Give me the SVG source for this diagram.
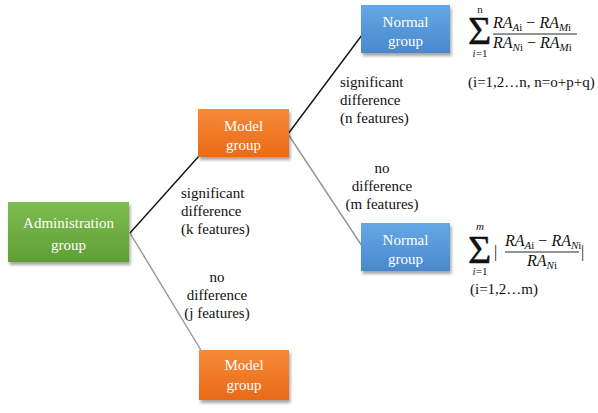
<svg xmlns="http://www.w3.org/2000/svg" width="598" height="413" viewBox="0 0 598 413">
<defs>
<linearGradient id="gGreen" x1="0" y1="0" x2="0" y2="1"><stop offset="0" stop-color="#7dbd4f"/><stop offset="1" stop-color="#5f9f35"/></linearGradient>
<linearGradient id="gOrange" x1="0" y1="0" x2="0" y2="1"><stop offset="0" stop-color="#f68a38"/><stop offset="1" stop-color="#e96a18"/></linearGradient>
<linearGradient id="gBlue" x1="0" y1="0" x2="0" y2="1"><stop offset="0" stop-color="#65a8e6"/><stop offset="1" stop-color="#4a88cc"/></linearGradient>
<filter id="sh" x="-10%" y="-10%" width="130%" height="140%"><feDropShadow dx="1.5" dy="3" stdDeviation="1.8" flood-color="#000" flood-opacity="0.35"/></filter>
</defs>
<style>
.box{filter:url(#sh)}
.bt{font-family:"Liberation Serif","Times New Roman",serif;font-size:15px;fill:#fff;text-anchor:middle}
.lb{font-family:"Liberation Serif","Times New Roman",serif;font-size:15px;fill:#111}
.c{text-anchor:middle}
.m{font-family:"Liberation Serif","Times New Roman",serif;fill:#111}
.sig{font-size:40px;stroke:#111;stroke-width:0.4}
.it{font-style:italic}
.big{font-size:16px}
.sub{font-size:11px}
.sm{font-size:11px}
.dk{stroke:#111;stroke-width:1.4;fill:none}
.gy{stroke:#959595;stroke-width:1.4;fill:none}
.fl{stroke:#111;stroke-width:0.9}
</style>
<g id="connectors">
<line class="dk" x1="130" y1="233" x2="199" y2="156"/>
<line class="gy" x1="130" y1="233" x2="202" y2="352"/>
<line class="dk" x1="288" y1="134" x2="362" y2="35"/>
<line class="gy" x1="288" y1="134" x2="362" y2="246"/>
</g>
<g id="admin">
<rect class="box" x="8" y="202" width="121" height="60" fill="url(#gGreen)"/>
<text class="bt" x="68.5" y="228">Administration</text>
<text class="bt" x="68.5" y="250">group</text>
</g>
<g id="model1">
<rect class="box" x="198" y="109" width="91" height="48" fill="url(#gOrange)"/>
<text class="bt" x="243.5" y="131">Model</text>
<text class="bt" x="243.5" y="150">group</text>
</g>
<g id="model2">
<rect class="box" x="199" y="350" width="90" height="50" fill="url(#gOrange)"/>
<text class="bt" x="244" y="370">Model</text>
<text class="bt" x="244" y="390">group</text>
</g>
<g id="normal1">
<rect class="box" x="361" y="5" width="89" height="48" fill="url(#gBlue)"/>
<text class="bt" x="405.5" y="27">Normal</text>
<text class="bt" x="405.5" y="46">group</text>
</g>
<g id="normal2">
<rect class="box" x="361" y="223" width="89" height="48" fill="url(#gBlue)"/>
<text class="bt" x="405.5" y="245">Normal</text>
<text class="bt" x="405.5" y="264">group</text>
</g>
<g id="labels">
<text class="lb" x="181" y="198">significant</text>
<text class="lb" x="181" y="216">difference</text>
<text class="lb" x="181" y="234">(k features)</text>
<text class="lb c" x="217" y="282">no</text>
<text class="lb c" x="217" y="300">difference</text>
<text class="lb c" x="217" y="318">(j features)</text>
<text class="lb" x="340" y="87">significant</text>
<text class="lb" x="340" y="105">difference</text>
<text class="lb" x="340" y="123">(n features)</text>
<text class="lb c" x="382" y="173">no</text>
<text class="lb c" x="382" y="191">difference</text>
<text class="lb c" x="382" y="209">(m features)</text>
</g>
<g id="formula1">
<text class="m sm c" x="480" y="13">n</text>
<text class="m sig" x="468" y="44">Σ</text>
<text class="m sm c" x="480" y="57"><tspan class="it">i</tspan>=1</text>
<text class="m big" x="493" y="28"><tspan class="it">RA</tspan><tspan class="sub" dy="3"><tspan class="it">A</tspan>i</tspan><tspan dy="-3"> − </tspan><tspan class="it">RA</tspan><tspan class="sub" dy="3"><tspan class="it">M</tspan>i</tspan></text>
<line class="fl" x1="493" y1="34" x2="577" y2="34"/>
<text class="m big" x="493" y="48"><tspan class="it">RA</tspan><tspan class="sub" dy="3"><tspan class="it">N</tspan>i</tspan><tspan dy="-3"> − </tspan><tspan class="it">RA</tspan><tspan class="sub" dy="3"><tspan class="it">M</tspan>i</tspan></text>
<text class="lb" x="468" y="87">(i=1,2…n, n=o+p+q)</text>
</g>
<g id="formula2">
<text class="m sm c it" x="480" y="230">m</text>
<text class="m sig" x="468" y="263">Σ</text>
<text class="m sm c" x="480" y="275"><tspan class="it">i</tspan>=1</text>
<text class="m big" x="494" y="257">|</text>
<text class="m big" x="505" y="246"><tspan class="it">RA</tspan><tspan class="sub" dy="3"><tspan class="it">A</tspan>i</tspan><tspan dy="-3"> − </tspan><tspan class="it">RA</tspan><tspan class="sub" dy="3"><tspan class="it">N</tspan>i</tspan></text>
<line class="fl" x1="505" y1="252" x2="579" y2="252"/>
<text class="m big c" x="542" y="266"><tspan class="it">RA</tspan><tspan class="sub" dy="3"><tspan class="it">N</tspan>i</tspan></text>
<text class="m big" x="581" y="257">|</text>
<text class="lb" x="470" y="294">(i=1,2…m)</text>
</g>
</svg>
